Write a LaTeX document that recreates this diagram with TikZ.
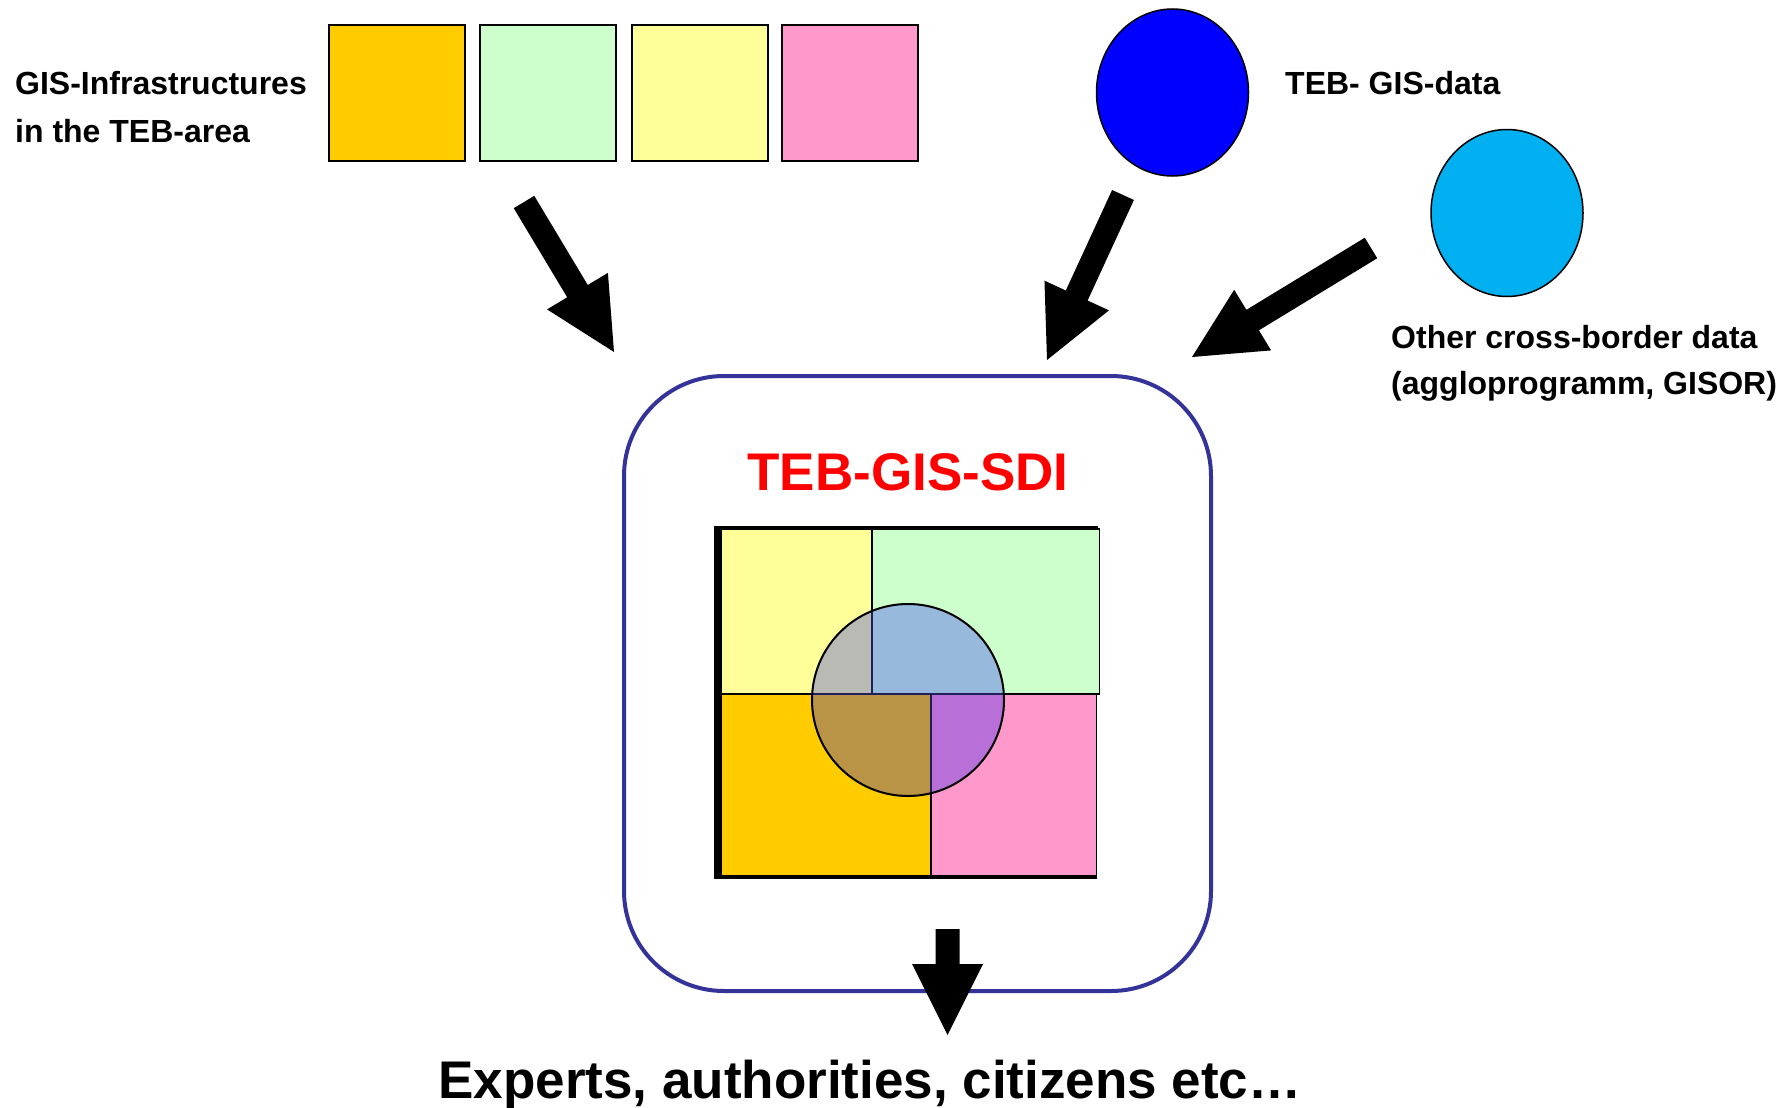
\documentclass[tikz,border=0pt]{standalone}
\usepackage{fontspec}
\setmainfont{Liberation Sans}
\usetikzlibrary{calc,shapes.geometric}
\definecolor{cOrange}{HTML}{FFCC00}
\definecolor{cGreen}{HTML}{CCFFCC}
\definecolor{cYellow}{HTML}{FFFF99}
\definecolor{cPink}{HTML}{FF99CC}
\definecolor{cBlueC}{HTML}{0000FF}
\definecolor{cCyan}{HTML}{00B0F0}
\definecolor{cFrame}{HTML}{333399}
\definecolor{cGray}{HTML}{B9BAB3}
\definecolor{cSky}{HTML}{96B9DC}
\definecolor{cBrown}{HTML}{B99447}
\definecolor{cPurple}{HTML}{B870D8}
\tikzset{
  sqbox/.style={draw=black, line width=2pt, minimum width=136pt, minimum height=136pt, anchor=north west, inner sep=0pt},
  disc/.style={ellipse, draw=black, line width=1.5pt, minimum width=152pt, minimum height=167pt, inner sep=0pt},
  lbl/.style={font=\bfseries\fontsize{32}{47}\selectfont, inner sep=0pt, anchor=base west},
  cell/.style={draw=black, line width=1.5pt},
}
\newcommand\blkarrow[2]{%
  \coordinate (hb) at ($(#2)!71pt!(#1)$);
  \fill ($(#1)!12pt!90:(#2)$) -- ($(hb)!12pt!90:(#2)$) -- ($(hb)!35.5pt!90:(#2)$) -- (#2)
    -- ($(hb)!35.5pt!-90:(#2)$) -- ($(hb)!12pt!-90:(#2)$) -- ($(#1)!12pt!-90:(#2)$) -- cycle;}
\begin{document}
\begin{tikzpicture}[x=1pt,y=-1pt]
\useasboundingbox[fill=white] (0,0) rectangle (1791,1108);

% labels
\node[lbl] (l1) at (15,95) {GIS-Infrastructures};
\node[lbl] (l2) at (15,142) {in the TEB-area};
\node[lbl] (l3) at (1285,94.5) {TEB- GIS-data};
\node[lbl] (l4) at (1391,348.5) {Other cross-border data};
\node[lbl] (l5) at (1391,394.5) {(aggloprogramm, GISOR)};

% squares
\node[sqbox, fill=cOrange] (sq1) at (328,24) {};
\node[sqbox, fill=cGreen] (sq2) at (479,24) {};
\node[sqbox, fill=cYellow] (sq3) at (630.5,24) {};
\node[sqbox, fill=cPink] (sq4) at (781,24) {};

% circles
\node[disc, fill=cBlueC] (c1) at (1172.5,92.5) {};
\node[disc, fill=cCyan] (c2) at (1507,213) {};

% SDI box
\node[draw=cFrame, line width=4pt, rounded corners=100pt, minimum width=587pt, minimum height=615pt, inner sep=0pt] (sdi) at (917.5,683.5) {};
\node[font=\bfseries\fontsize{53}{60}\selectfont, text=red, inner sep=0pt, anchor=base] (title) at (908,490) {TEB-GIS-SDI};

% inner composite
\fill (714,526) rectangle (721,878);
\draw[line width=2.5pt] (714,527) -- (1098,527);
\draw[line width=3.5pt] (714,877) -- (1097,877);
\draw[cell, fill=cYellow] (721,529) rectangle (872,694);
\draw[cell, fill=cGreen] (872,529) rectangle (1099.5,694);
\draw[cell, fill=cOrange] (721,694) rectangle (931,876);
\draw[cell, fill=cPink] (931,694) rectangle (1096.5,876);
\begin{scope}
  \clip (908,700) circle (96);
  \fill[cGray] (800,590) rectangle (872,694);
  \fill[cSky] (872,590) rectangle (1010,694);
  \fill[cBrown] (800,694) rectangle (931,810);
  \fill[cPurple] (931,694) rectangle (1010,810);
  \draw[line width=1.5pt, cFrame!60!black] (872,590) -- (872,694) (800,694) -- (1010,694) (931,694) -- (931,810);
\end{scope}
\draw[line width=2pt] (908,700) circle (96);

% arrows
\coordinate (t1) at (524,202);  \coordinate (h1) at (614,352);
\coordinate (t2) at (1123,195); \coordinate (h2) at (1047,360);
\coordinate (t3) at (1371,248); \coordinate (h3) at (1192,357);
\coordinate (t4) at (947.5,929); \coordinate (h4) at (947.5,1035);
\blkarrow{t1}{h1}
\blkarrow{t2}{h2}
\blkarrow{t3}{h3}
\blkarrow{t4}{h4}

\node[font=\bfseries\fontsize{53}{60}\selectfont, inner sep=0pt, anchor=base] (out) at (870,1098) {Experts, authorities, citizens etc…};
\end{tikzpicture}
\end{document}
